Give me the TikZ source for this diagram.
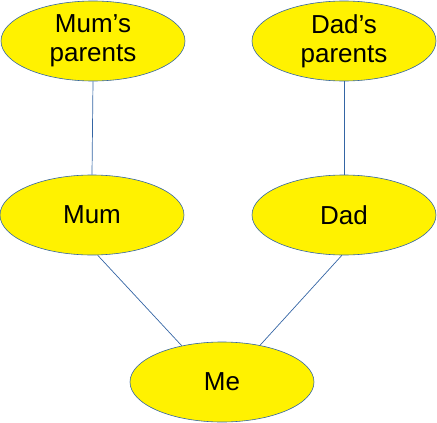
\documentclass[tikz,border=0pt]{standalone}
\usepackage{fontspec}
\setmainfont{Liberation Sans}
\usetikzlibrary{shapes.geometric}
\definecolor{linkblue}{HTML}{3465A4}
\begin{document}
\begin{tikzpicture}[x=1pt,y=-1pt,
        person/.style={ellipse, draw=linkblue, line width=0.6pt, fill=yellow,
                minimum width=184pt, minimum height=80pt, inner sep=0pt,
                align=center, font=\fontsize{26}{29}\selectfont},
        link/.style={draw=linkblue, line width=0.7pt}]
                \useasboundingbox (0,0) rectangle (437,423);

                \node [person] (mumparents) at (93,41) {Mum’s\\parents};
                \node [person] (dadparents) at (344,41) {Dad’s\\parents};
                \node [person] (mum) at (92,215) {Mum};
                \node [person] (dad) at (344,215) {Dad};
                \node [person] (me) at (222,382) {Me};

                \draw [link] (mumparents.south) -- (mum.north);
                \draw [link] (dadparents.south) -- (dad.north);
                \draw [link] (mum.-82) -- (me.138);
                \draw [link] (dad.-93) -- (me.44);
            \end{tikzpicture}
\end{document}
